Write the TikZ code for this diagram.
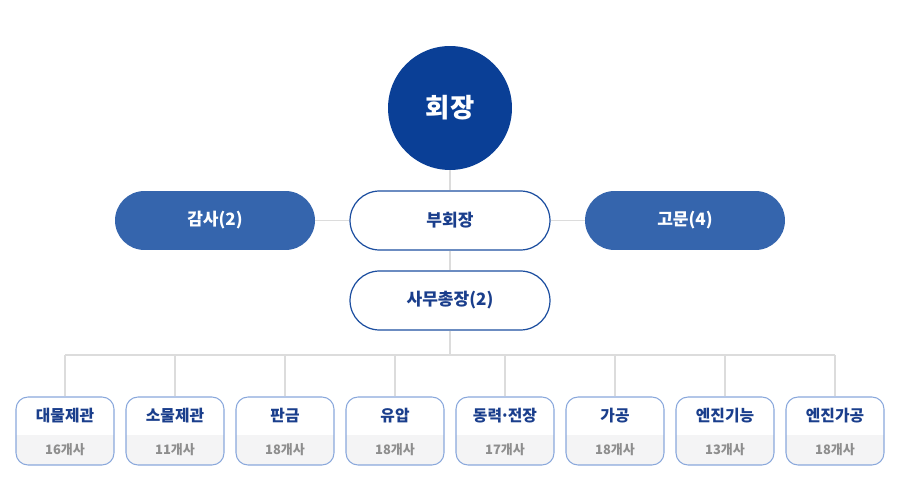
\documentclass[tikz,border=0pt]{standalone}
\usepackage{fontspec}
\setmainfont{Noto Sans CJK KR}
\usetikzlibrary{positioning,calc}

\definecolor{chairblue}{HTML}{0A3F96}
\definecolor{sideblue}{HTML}{3565AD}
\definecolor{lineblue}{HTML}{1D4FA0}
\definecolor{textblue}{HTML}{1A3E8C}
\definecolor{boxedge}{HTML}{8AA8DC}
\definecolor{countbg}{HTML}{F4F4F5}
\definecolor{countgray}{HTML}{8E8E8E}
\definecolor{connline}{HTML}{DCDCDC}

\newcommand\narrowdot{\kern-0.12em·\kern-0.12em}

\tikzset{
  chair/.style={circle, fill=chairblue, minimum size=2.48cm, text=white,
    font=\fontsize{15}{18}\selectfont\bfseries},
  sidebox/.style={rounded corners=0.59cm, fill=sideblue, minimum width=4cm,
    minimum height=1.18cm, text=white, font=\fontsize{9.7}{12}\selectfont\bfseries},
  pillbox/.style={rounded corners=0.59cm, draw=lineblue, line width=0.7pt, fill=white,
    minimum width=4cm, minimum height=1.18cm, text=textblue,
    font=\fontsize{9.7}{12}\selectfont\bfseries},
  partbox/.style={rounded corners=0.24cm, draw=boxedge, line width=0.6pt, fill=white,
    minimum width=1.96cm, minimum height=1.36cm,
    path picture={\fill[countbg, sharp corners] (path picture bounding box.south west)
      rectangle ([yshift=0.6cm]path picture bounding box.south east);}},
  parttitle/.style={text=textblue, font=\fontsize{9}{11}\selectfont\bfseries},
  partcount/.style={text=countgray, font=\fontsize{7.4}{9}\selectfont\bfseries},
  conn/.style={draw=connline, line width=0.6pt}
}

\begin{document}
\begin{tikzpicture}[x=0.02cm, y=-0.02cm]
\useasboundingbox (0,0) rectangle (900,500);

% Top level
\node[chair] (chair) at (450,108) {회장};

% Second row
\node[pillbox] (vice) at (450,220.5) {부회장};
\node[sidebox] (audit) at (215,220.5) {감사(2)};
\node[sidebox] (advisor) at (685,220.5) {고문(4)};

% Secretary general
\node[pillbox] (secgen) at (450,300.5) {사무총장(2)};

% Connectors
\draw[conn] (chair) -- (vice);
\draw[conn] (audit) -- (vice);
\draw[conn] (vice) -- (advisor);
\draw[conn] (vice) -- (secgen);
\coordinate (bus) at (450,355);
\draw[conn] (secgen) -- (bus);

% Member divisions
\foreach \i/\name/\num in {1/대물제관/16, 2/소물제관/11, 3/판금/18, 4/유압/18,
    5/동력\narrowdot{}전장/17, 6/가공/18, 7/엔진기능/13, 8/엔진가공/18} {
  \node[partbox] (d\i) at ({65+110*(\i-1)},431) {};
  \node[parttitle] (t\i) at ([yshift=0.3cm]d\i.center) {\name};
  \node[partcount] (c\i) at ([yshift=-0.38cm]d\i.center) {{\num}개사};
  \draw[conn] (d\i.north) -- (d\i.north |- bus);
}
\draw[conn] (d1.north |- bus) -- (d8.north |- bus);

\end{tikzpicture}
\end{document}
